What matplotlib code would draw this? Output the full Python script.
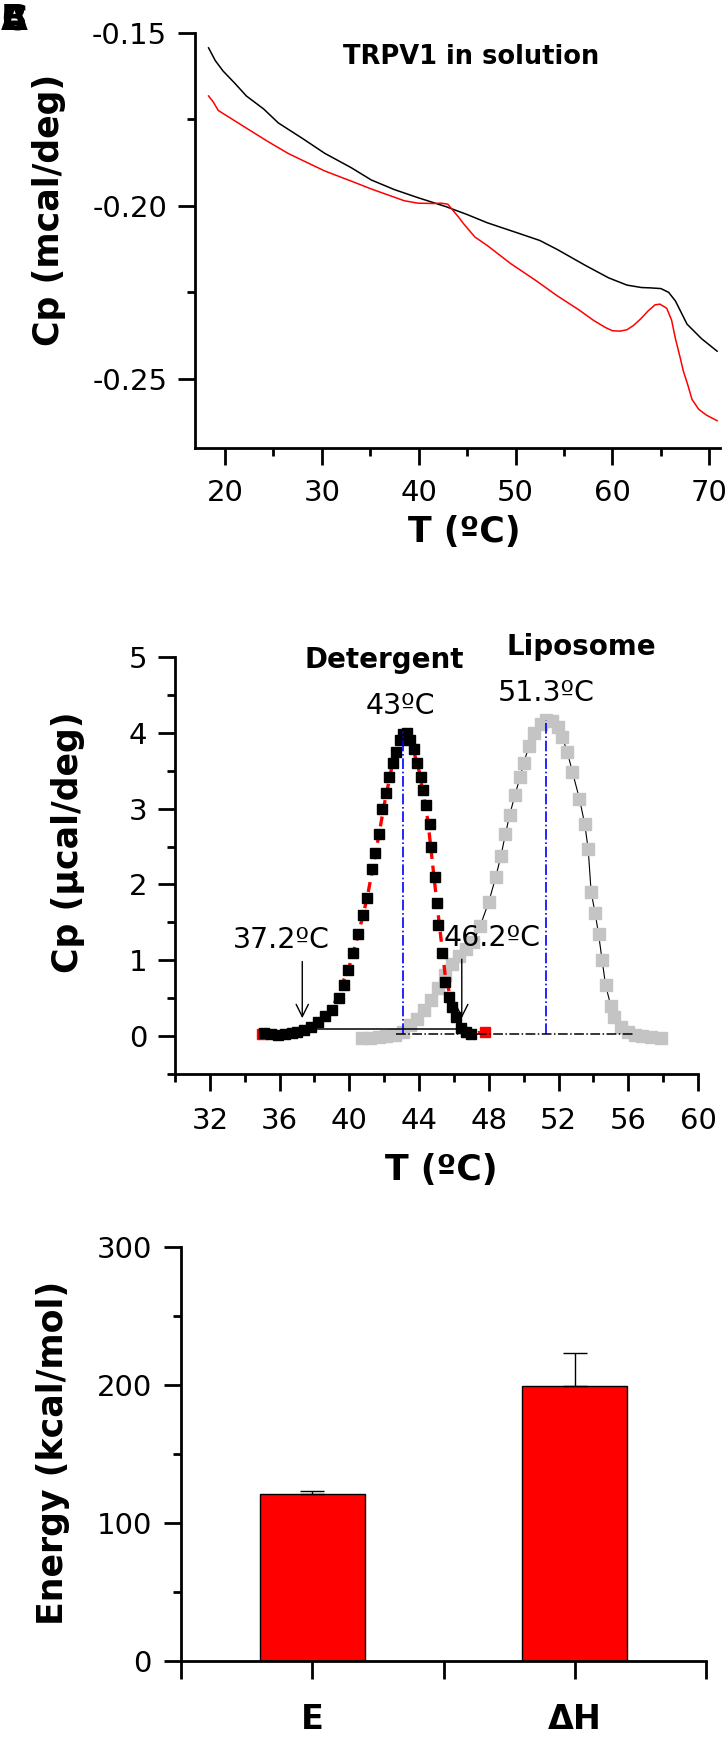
"""
DSC of TRPV1: thermograms in solution, detergent vs liposome, and energetics
"""

import matplotlib
matplotlib.use("Agg")
import matplotlib.pyplot as plt
from matplotlib.ticker import MultipleLocator, FixedLocator

plt.rcParams['font.family'] = ['DejaVu Sans']

# ============================================================================
# DATA
# ============================================================================
# A: TRPV1 in solution (T in C, Cp in mcal/deg)
sol_black_T = [18.3, 19.0, 19.8, 21.0, 22.2, 24.0, 25.5, 28.0, 30.3, 33.0, 35.1,
               37.5, 39.9, 42.8, 45.0, 47.1, 50.4, 52.5, 54.3, 57.2, 59.6, 61.5,
               63.0, 63.9, 65.0, 65.8, 66.5, 67.7, 69.2, 70.8]
sol_black_Cp = [-0.1543, -0.158, -0.161, -0.1645, -0.1682, -0.172, -0.176, -0.1805,
                -0.1848, -0.1889, -0.1925, -0.1953, -0.1976, -0.2002, -0.2025, -0.2049,
                -0.208, -0.210, -0.2126, -0.2172, -0.2208, -0.2229, -0.2236, -0.2237,
                -0.2239, -0.2250, -0.2275, -0.2342, -0.2384, -0.242]

sol_red_T = [18.3, 18.8, 19.3, 20.5, 22.2, 24.5, 26.5, 28.5, 30.3, 33.0, 35.1, 37.5,
             38.5, 39.9, 41.5, 42.3, 43.0, 43.5, 44.1, 44.7, 45.8, 47.1, 49.5, 52.0,
             54.3, 56.5, 58.1, 59.3, 60.0, 60.8, 61.5, 62.2, 62.9, 63.7, 64.4, 64.9,
             65.6, 66.1, 66.5, 67.0, 67.3, 67.8, 68.2, 68.9, 69.7, 70.8]
sol_red_Cp = [-0.1682, -0.170, -0.1724, -0.1745, -0.1775, -0.1815, -0.1848, -0.1875,
              -0.1899, -0.1928, -0.1951, -0.1975, -0.1985, -0.1992, -0.1993, -0.1992,
              -0.1995, -0.2012, -0.2032, -0.2054, -0.2090, -0.2115, -0.2167, -0.2214,
              -0.2260, -0.2300, -0.2332, -0.2352, -0.2361, -0.2362, -0.2358, -0.2345,
              -0.2327, -0.2303, -0.2286, -0.2284, -0.2296, -0.2330, -0.2384, -0.2440,
              -0.2476, -0.2520, -0.2559, -0.2588, -0.2605, -0.2621]

# B: detergent (black squares), its fit (red dashed) and liposome (grey)
det_T = [35.1, 35.5, 35.9, 36.3, 36.7, 37.0, 37.4, 37.8, 38.2, 38.6, 39.0, 39.4,
         39.7, 39.9, 40.2, 40.5, 40.8, 41.0, 41.3, 41.5, 41.7, 41.9, 42.1, 42.3,
         42.5, 42.7, 42.9, 43.1, 43.3, 43.5, 43.7, 43.9, 44.1, 44.2, 44.4, 44.6,
         44.7, 44.9, 45.0, 45.1, 45.3, 45.5, 45.7, 45.9, 46.1, 46.4, 46.7, 47.0]
det_Cp = [0.04, 0.03, 0.02, 0.03, 0.04, 0.05, 0.08, 0.12, 0.19, 0.26, 0.35, 0.50,
          0.68, 0.87, 1.10, 1.35, 1.60, 1.82, 2.20, 2.42, 2.67, 3.00, 3.20, 3.42,
          3.60, 3.75, 3.90, 3.99, 4.00, 3.90, 3.78, 3.60, 3.42, 3.25, 3.05, 2.80,
          2.50, 2.10, 1.75, 1.47, 1.10, 0.72, 0.52, 0.39, 0.25, 0.11, 0.05, 0.03]

fit_T = [35.0, 36.0, 37.0, 38.0, 39.0, 40.0, 40.5, 41.0, 41.5, 42.0, 42.5, 43.0,
         43.5, 44.0, 44.5, 45.0, 45.5, 46.0, 46.5, 47.0, 47.8]
fit_Cp = [0.03, 0.04, 0.07, 0.15, 0.35, 0.92, 1.33, 1.80, 2.40, 3.05, 3.62, 3.98,
          3.92, 3.50, 2.85, 1.80, 0.80, 0.32, 0.10, 0.04, 0.05]

lip_T = [40.7, 41.2, 41.7, 42.1, 42.6, 43.1, 43.5, 43.9, 44.3, 44.7, 45.1, 45.5,
         45.9, 46.3, 46.7, 47.1, 47.5, 48.0, 48.4, 48.7, 48.95, 49.2, 49.5, 49.8,
         50.0, 50.3, 50.6, 51.0, 51.3, 51.6, 51.96, 52.2, 52.5, 52.8, 53.2, 53.5,
         53.7, 53.87, 54.1, 54.3, 54.5, 54.7, 55.0, 55.2, 55.6, 56.0, 56.4, 56.8,
         57.3, 57.9]
lip_Cp = [-0.02, -0.02, -0.01, 0.0, 0.01, 0.06, 0.14, 0.23, 0.35, 0.48, 0.63, 0.81,
          0.95, 1.05, 1.15, 1.24, 1.45, 1.77, 2.10, 2.38, 2.66, 2.92, 3.18, 3.42,
          3.60, 3.82, 4.00, 4.12, 4.17, 4.15, 4.08, 3.95, 3.75, 3.48, 3.13, 2.80,
          2.47, 1.90, 1.62, 1.34, 1.00, 0.67, 0.40, 0.25, 0.12, 0.06, 0.02, 0.0,
          -0.01, -0.02]

det_Tm, det_peak = 43.1, 4.02
lip_Tm, lip_peak = 51.3, 4.17
onset_T, end_T = 37.3, 46.4

# C: energetics (kcal/mol)
energy_labels = ['E', 'ΔH']
energy_values = [121, 199]
energy_err = [2.5, 24]

# ============================================================================
# FIGURE
# ============================================================================
W, H = 728, 1739
fig = plt.figure(figsize=(W / 100, H / 100), dpi=100)


def px_axes(left, right, top, bottom):
    return fig.add_axes([left / W, 1 - bottom / H, (right - left) / W, (bottom - top) / H])


def px_text(x, y, s, **kw):
    # text centred on a pixel position of the figure
    fig.text(x / W, 1 - y / H, s, ha='center', va='center', **kw)


def style(ax, xpad, ypad):
    for s in ['top', 'right']:
        ax.spines[s].set_visible(False)
    for s in ['left', 'bottom']:
        ax.spines[s].set_linewidth(2.0)
    ax.tick_params(which='major', length=12, width=2.0, labelsize=21)
    ax.tick_params(which='minor', length=6, width=2.0)
    ax.tick_params(axis='x', which='major', pad=xpad)
    ax.tick_params(axis='y', which='major', pad=ypad)


LBL = dict(fontsize=25, fontweight='bold')

# ---------------- A ----------------
axA = px_axes(195, 720, 33, 448)
axA.plot(sol_black_T, sol_black_Cp, color='black', lw=1.1)
axA.plot(sol_red_T, sol_red_Cp, color='red', lw=1.1)
axA.set_xlim(16.9, 71.1)
axA.set_ylim(-0.27, -0.15)
axA.xaxis.set_major_locator(FixedLocator([20, 30, 40, 50, 60, 70]))
axA.xaxis.set_minor_locator(FixedLocator([25, 35, 45, 55, 65]))
axA.yaxis.set_major_locator(FixedLocator([-0.25, -0.20, -0.15]))
axA.yaxis.set_minor_locator(FixedLocator([-0.225, -0.175]))
axA.set_yticklabels(['-0.25', '-0.20', '-0.15'])
style(axA, 10, 8)
axA.text(0.526, 0.942, 'TRPV1 in solution', transform=axA.transAxes,
         ha='center', va='center', fontsize=18.5, fontweight='bold')
px_text(49, 210, 'Cp (mcal/deg)', rotation=90, **LBL)
px_text(464, 532, 'T (ºC)', **LBL)

# ---------------- B ----------------
axB = px_axes(175, 698, 657, 1074)
axB.plot(lip_T, lip_Cp, color='black', lw=0.8, marker='s', ms=8,
         mfc='#c4c4c4', mec='#c4c4c4', zorder=2)
axB.plot(fit_T, fit_Cp, color='red', lw=2.4, ls=(0, (3, 2)), zorder=3)
axB.plot([fit_T[0], fit_T[-1]], [fit_Cp[0], fit_Cp[-1]], ls='none', marker='s',
         ms=7, color='red', zorder=3)
axB.plot(det_T, det_Cp, color='black', lw=0.8, marker='s', ms=6.5,
         mfc='black', mec='black', ls='none', zorder=4)
axB.vlines([det_Tm, lip_Tm], 0.03, [det_peak, lip_peak], colors='blue',
           linestyles='dashdot', lw=1.2, zorder=5)
axB.plot([onset_T, end_T], [0.09, 0.09], color='black', lw=1.1, zorder=5)
axB.plot([42.7, 56.3], [0.03, 0.03], color='black', lw=1.1, ls='dashdot', zorder=5)
ann = dict(arrowstyle='->', color='black', lw=1.0, mutation_scale=22)
axB.annotate('', xy=(onset_T, 0.2), xytext=(onset_T, 1.02), arrowprops=ann)
axB.annotate('', xy=(46.45, 0.2), xytext=(46.45, 1.05), arrowprops=ann)
axB.text(36.1, 1.27, '37.2ºC', ha='center', va='center', fontsize=20.5)
axB.text(48.2, 1.30, '46.2ºC', ha='center', va='center', fontsize=20.5)
axB.text(det_Tm - 0.2, 4.35, '43ºC', ha='center', va='center', fontsize=20.5)
axB.text(lip_Tm, 4.52, '51.3ºC', ha='center', va='center', fontsize=20.5)
axB.text(42.0, 4.96, 'Detergent', ha='center', va='center', fontsize=20,
         fontweight='bold', clip_on=False)
axB.text(53.3, 5.13, 'Liposome', ha='center', va='center', fontsize=20,
         fontweight='bold', clip_on=False)
axB.set_xlim(30, 60)
axB.set_ylim(-0.5, 5)
axB.xaxis.set_major_locator(FixedLocator([32, 36, 40, 44, 48, 52, 56, 60]))
axB.xaxis.set_minor_locator(FixedLocator([30, 34, 38, 42, 46, 50, 54, 58]))
axB.yaxis.set_major_locator(MultipleLocator(1))
axB.yaxis.set_minor_locator(MultipleLocator(0.5))
style(axB, 12, 8)
px_text(68, 842, 'Cp (μcal/deg)', rotation=90, **LBL)
px_text(441, 1170, 'T (ºC)', **LBL)

# ---------------- C ----------------
axC = px_axes(181, 706, 1247, 1661)
xpos = [1, 2]
axC.bar(xpos, energy_values, width=0.4, color='red', edgecolor='black', lw=1.0, zorder=2)
axC.errorbar(xpos, energy_values, yerr=[[0, 0], energy_err], fmt='none',
             ecolor='black', elinewidth=1.0, capsize=8.5, capthick=1.0, zorder=3)
axC.set_xlim(0.5, 2.5)
axC.set_ylim(0, 300)
axC.xaxis.set_major_locator(FixedLocator([0.5, 1, 1.5, 2, 2.5]))
axC.set_xticklabels(['', energy_labels[0], '', energy_labels[1], ''])
axC.yaxis.set_major_locator(MultipleLocator(100))
axC.yaxis.set_minor_locator(MultipleLocator(50))
style(axC, 10, 9)
axC.tick_params(axis='x', which='major', length=13, pad=17, labelsize=24)
for t in axC.get_xticklabels():
    t.set_fontweight('bold')
px_text(53, 1453, 'Energy (kcal/mol)', rotation=90, **LBL)

# panel letters stacked in the corner
for letter in ['A', 'B', 'C']:
    fig.text(1 / W, 1 - 3 / H, letter, ha='left', va='top', fontsize=25, fontweight='bold')

fig.savefig('out.png', dpi=100)
print("Saved: out.png")
